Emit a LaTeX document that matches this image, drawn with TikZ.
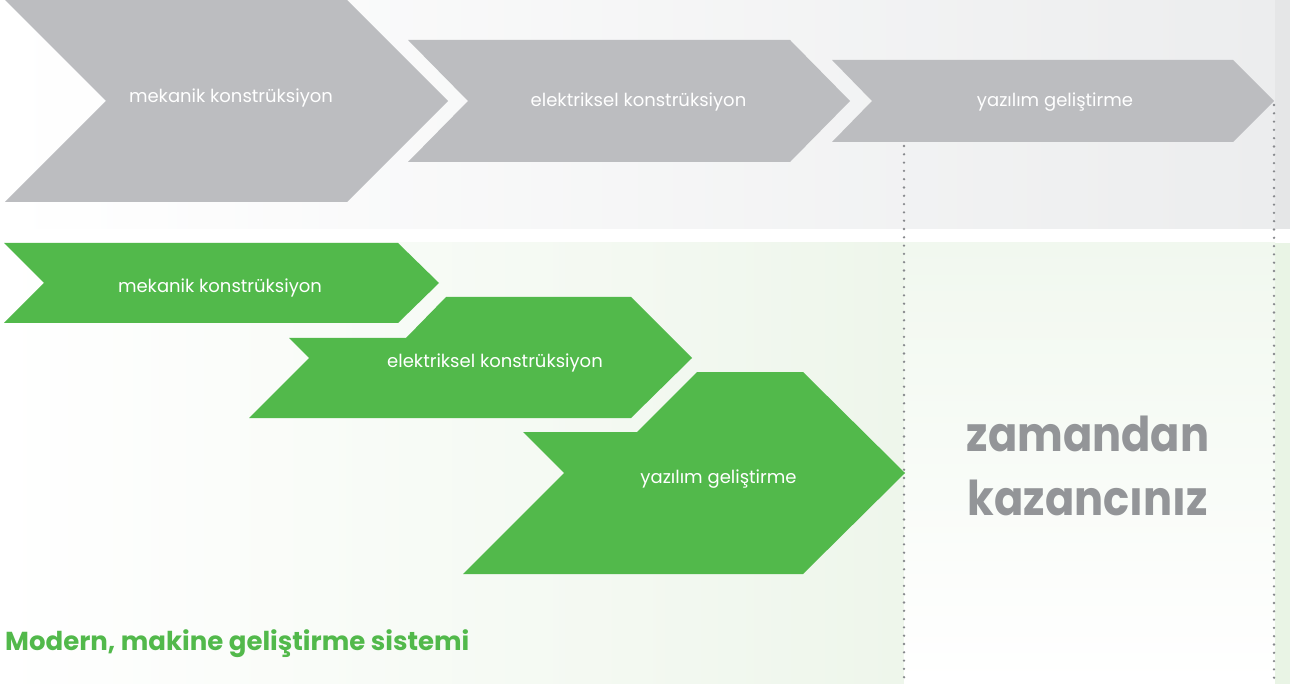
\documentclass[tikz,border=0pt]{standalone}
\usepackage{fontspec}
\setmainfont{Poppins}
\newfontfamily\bigfont{Poppins}[FakeStretch=0.9]
\definecolor{chevgray}{RGB}{188,189,192}
\definecolor{chevgreen}{RGB}{82,185,75}
\definecolor{textgray}{RGB}{147,149,152}
\definecolor{dotgray}{RGB}{135,137,141}
\definecolor{topgray}{RGB}{236,237,238}
\definecolor{topstrip}{RGB}{229,230,231}
\definecolor{botgreen}{RGB}{238,246,235}
\definecolor{botgreentop}{RGB}{241,248,239}
\definecolor{botstrip}{RGB}{233,244,229}
\begin{document}
\begin{tikzpicture}[x=1pt,y=-1pt,
  graychev/.style={fill=chevgray},
  greenchev/.style={fill=chevgreen},
  lbl/.style={text=white,font=\fontsize{18}{21}\selectfont,anchor=base,inner sep=0pt},
  bigtxt/.style={text=textgray,font=\bigfont\fontsize{48}{52}\selectfont\bfseries,anchor=base,inner sep=0pt},
  titletxt/.style={text=chevgreen,font=\fontsize{26}{30}\selectfont\bfseries,anchor=base west,inner sep=0pt},
  dotline/.style={draw=dotgray,line width=2.6pt,line cap=round,dash pattern=on 0pt off 8.3pt}]
\useasboundingbox (0,0) rectangle (1295,684);
% backgrounds
\shade[left color=white,right color=topgray] (0,0) rectangle (1275,229);
\fill[topstrip] (1275,0) rectangle (1290,229);
\shade[left color=white,right color=botgreen] (0,243) rectangle (904,684);
\shade[top color=botgreentop,bottom color=white] (904,243) rectangle (1275,684);
\fill[botstrip] (1275,243) rectangle (1290,684);
% dotted guide lines
\coordinate (la) at (904,146);
\coordinate (lb) at (904,684);
\coordinate (ra) at (1274,105);
\coordinate (rb) at (1274,684);
\draw[dotline] (la) -- (lb);
\draw[dotline] (ra) -- (rb);
% gray chevrons
\fill[graychev] (5,0) -- (347,0) -- (448,101) -- (347,202) -- (5,202) -- (106,101) -- cycle;
\fill[graychev] (408,40) -- (790,40) -- (850,101) -- (790,162) -- (408,162) -- (468,101) -- cycle;
\fill[graychev] (832,60) -- (1233,60) -- (1274,101) -- (1233,142) -- (832,142) -- (872,101) -- cycle;
% green chevrons
\fill[greenchev] (4,243) -- (398,243) -- (439,283) -- (398,323) -- (4,323) -- (44,283) -- cycle;
\fill[greenchev] (289,338) -- (406,338) -- (446,297) -- (631,297) -- (692,358) -- (631,418) -- (249,418) -- (309,358) -- cycle;
\fill[greenchev] (523,432) -- (637,432) -- (697,372) -- (803,372) -- (905,473) -- (803,574) -- (463,574) -- (564,473) -- cycle;
% labels
\node[lbl] (g1t) at (231,103) {mekanik konstrüksiyon};
\node[lbl] (g2t) at (638.5,107) {elektriksel konstrüksiyon};
\node[lbl] (g3t) at (1055,107) {yazılım geliştirme};
\node[lbl] (n1t) at (220,293) {mekanik konstrüksiyon};
\node[lbl] (n2t) at (495,367) {elektriksel konstrüksiyon};
\node[lbl] (n3t) at (718.5,483) {yazılım geliştirme};
\node[bigtxt] (z1) at (1088,451) {zamandan};
\node[bigtxt] (z2) at (1088,515) {kazancınız};
\node[titletxt] (title) at (5,650) {Modern, makine geliştirme sistemi};
\end{tikzpicture}
\end{document}
